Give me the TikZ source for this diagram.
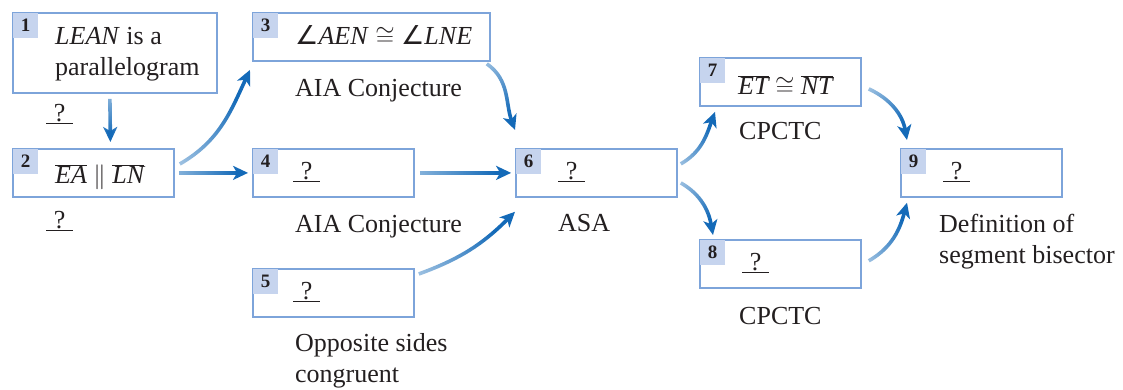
\documentclass[tikz,border=0pt]{standalone}
\usepackage{fontspec}
\setmainfont{Liberation Serif}
\newfontfamily\symfont{DejaVu Sans}
\usetikzlibrary{arrows.meta,fadings}
\definecolor{boxblue}{RGB}{125,164,218}
\definecolor{tabblue}{RGB}{198,212,238}
\definecolor{flowblue}{RGB}{20,106,184}
\definecolor{inkgray}{RGB}{35,31,32}
% fading for the arrows: pale at the tail, solid from the middle on
% (wide margins so the arrow tips are not cut off)
\pgfdeclarehorizontalshading{flowshade}{100bp}{color(0bp)=(black!95); color(25bp)=(black!78); color(58bp)=(white); color(100bp)=(white)}
\pgfdeclarefading{flowfade}{\tikz{
    \fill[black!95] (-300bp,-300bp) rectangle (-50bp,300bp);
    \shade[shading=flowshade] (-50bp,-300bp) rectangle (50bp,300bp);
    \fill[white] (50bp,-300bp) rectangle (300bp,300bp);}}
\newcommand{\qblank}{\underline{\makebox[27pt]{?}}}
\newcommand{\seg}[1]{\ensuremath{\overline{\mbox{\itshape #1}}}}
\newcommand{\angsym}{{\symfont\char"2220}}
\begin{document}
\begin{tikzpicture}[x=1pt, y=1pt, font=\fontsize{26}{31}\selectfont, text=inkgray,
    stepbox/.style={draw=boxblue, line width=1.8pt, minimum width=161pt, minimum height=48pt, inner sep=0pt, anchor=north west},
    tab/.style={fill=tabblue, minimum size=25pt, inner sep=0pt, anchor=north west, font=\fontsize{19}{19}\selectfont\bfseries},
    stmt/.style={anchor=base west, inner sep=0pt, align=left},
    reason/.style={anchor=base west, inner sep=0pt, align=left},
    flow/.style={draw=flowblue, line width=3.6pt, -{Stealth[length=15pt, width=14pt, inset=4pt]}, path fading=flowfade}]
    \useasboundingbox (0,0) rectangle (1123,389);

    % Statement boxes
    \node[stepbox, minimum width=204pt, minimum height=80pt] (b1) at (12,377) {};
    \node[stepbox] (b2) at (12,241) {};
    \node[stepbox, minimum width=237pt] (b3) at (252,377) {};
    \node[stepbox] (b4) at (252,241) {};
    \node[stepbox] (b5) at (252,121) {};
    \node[stepbox] (b6) at (515,241) {};
    \node[stepbox] (b7) at (699,332) {};
    \node[stepbox] (b8) at (699,150) {};
    \node[stepbox] (b9) at (900,241) {};

    % Number tabs
    \foreach \i in {1,...,9}
        \node[tab] (n\i) at ([shift={(0.9pt,-0.9pt)}]b\i.north west) {\i};

    % Statements (base = last line)
    \node[stmt] (s1) at ([shift={(43pt,-64pt)}]b1.north west) {\textit{LEAN} is a\\parallelogram};
    \node[stmt] (s2) at ([shift={(43pt,14pt)}]b2.south west) {\seg{EA} $\parallel$ \seg{LN}};
    \node[stmt] (s3) at ([shift={(43pt,17pt)}]b3.south west) {\angsym\textit{AEN} $\cong$ \angsym\textit{LNE}};
    \node[stmt] (s4) at ([shift={(41pt,18pt)}]b4.south west) {\qblank};
    \node[stmt] (s5) at ([shift={(41pt,18pt)}]b5.south west) {\qblank};
    \node[stmt] (s6) at ([shift={(43pt,18pt)}]b6.south west) {\qblank};
    \node[stmt] (s7) at ([shift={(39pt,12pt)}]b7.south west) {\seg{ET} $\cong$ \seg{NT}};
    \node[stmt] (s8) at ([shift={(43pt,18pt)}]b8.south west) {\qblank};
    \node[stmt] (s9) at ([shift={(43pt,18pt)}]b9.south west) {\qblank};

    % Reasons
    \node[reason] (r1) at ([shift={(34pt,-28pt)}]b1.south west) {\qblank};
    \node[reason] (r2) at ([shift={(34pt,-31pt)}]b2.south west) {\qblank};
    \node[reason] (r3) at ([shift={(43pt,-35pt)}]b3.south west) {AIA Conjecture};
    \node[reason] (r4) at ([shift={(43pt,-35pt)}]b4.south west) {AIA Conjecture};
    \node[reason] (r5) at ([shift={(43pt,-65pt)}]b5.south west) {Opposite sides\\congruent};
    \node[reason] (r6) at ([shift={(43pt,-34pt)}]b6.south west) {ASA};
    \node[reason] (r7) at ([shift={(40pt,-33pt)}]b7.south west) {CPCTC};
    \node[reason] (r8) at ([shift={(40pt,-36pt)}]b8.south west) {CPCTC};
    \node[reason] (r9) at ([shift={(39pt,-66pt)}]b9.south west) {Definition of\\segment bisector};

    % Flow arrows
    \draw[flow, fading angle=-90] ([shift={(-5pt,-5pt)}]b1.south) -- ([shift={(17pt,6pt)}]b2.north);
    \draw[flow, fading angle=52] ([shift={(5pt,9pt)}]b2.east) to[out=30, in=-115] ([shift={(-2pt,-8pt)}]b3.south west);
    \draw[flow] ([xshift=4pt]b2.east) -- ([xshift=-4pt]b4.west);
    \draw[flow, fading angle=-70] ([shift={(-4pt,-2pt)}]b3.south east) to[out=-35, in=110] ([shift={(0pt,18pt)}]b6.north west);
    \draw[flow] ([xshift=5pt]b4.east) -- ([xshift=-4pt]b6.west);
    \draw[flow, fading angle=33] ([shift={(4pt,-6pt)}]b5.north east) to[out=20, in=-135] ([shift={(0pt,-14pt)}]b6.south west);
    \draw[flow, fading angle=57] ([shift={(3pt,9pt)}]b6.east) to[out=30, in=-110] ([shift={(16pt,-5pt)}]b7.south west);
    \draw[flow, fading angle=-58] ([shift={(3pt,-10pt)}]b6.east) to[out=-30, in=100] ([shift={(14pt,4pt)}]b8.north west);
    \draw[flow, fading angle=-52] ([shift={(7pt,-7pt)}]b7.east) to[out=-25, in=100] ([shift={(7pt,8pt)}]b9.north west);
    \draw[flow, fading angle=55] ([shift={(7pt,3pt)}]b8.east) to[out=30, in=-105] ([shift={(7pt,-5pt)}]b9.south west);
\end{tikzpicture}
\end{document}
